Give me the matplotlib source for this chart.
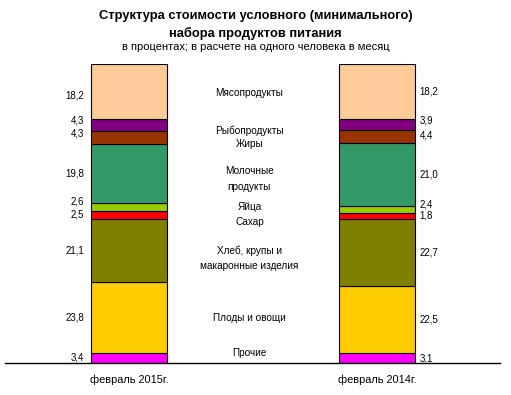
import matplotlib.pyplot as plt
import numpy as np

plt.rcParams['font.family'] = ['Liberation Sans', 'DejaVu Sans']

# categories from bottom to top
categories = ["Прочие", "Плоды и овощи", "Хлеб, крупы и\nмакаронные изделия", "Сахар",
              "Яйца", "Молочные\nпродукты", "Жиры", "Рыбопродукты", "Мясопродукты"]
periods = ["февраль 2015г.", "февраль 2014г."]
feb2015 = [3.4, 23.8, 21.1, 2.5, 2.6, 19.8, 4.3, 4.3, 18.2]
feb2014 = [3.1, 22.5, 22.7, 1.8, 2.4, 21.0, 4.4, 3.9, 18.2]
colors = ["#FF00FF", "#FFCC00", "#808000", "#FF0000", "#99CC00",
          "#339966", "#993300", "#800080", "#FFCC99"]
# vertical position (in %) of the category names between the bars
name_pos = [3.2, 14.9, 35.0, 47.1, 52.1, 61.5, 73.3, 77.6, 90.5]
# small nudges of the value labels (points), to keep them apart
nudge_l = [0, 0, 0, 0, 4, 0, 3, 3, -3]
nudge_r = [0, 0, 0, 0, 4, 0, 1, 3, 0]

fig = plt.figure(figsize=(5.11, 3.95), dpi=100)
ax = fig.add_axes([5 / 511, 1 - 362.7 / 395, 495 / 511, 298.4 / 395])

x = np.arange(len(periods))
w = 0.307
data = np.array([feb2015, feb2014])
bottom = np.zeros(2)
for i, c in enumerate(colors):
    ax.bar(x, data[:, i], w, bottom=bottom, color=c, edgecolor="black", linewidth=0.8)
    mid = bottom + data[:, i] / 2
    ax.annotate(f"{data[0, i]:.1f}".replace(".", ","), (x[0] - w / 2, mid[0]),
                xytext=(-5.5, nudge_l[i]), textcoords="offset points",
                ha="right", va="center", fontsize=7)
    ax.annotate(f"{data[1, i]:.1f}".replace(".", ","), (x[1] + w / 2, mid[1]),
                xytext=(3.5, nudge_r[i]), textcoords="offset points",
                ha="left", va="center", fontsize=7)
    ax.text(0.485, name_pos[i], categories[i], ha="center", va="center",
            fontsize=7.2, linespacing=1.7)
    bottom += data[:, i]

ax.set_xlim(-0.503, 1.498)
ax.set_ylim(0, 100)
for s in ["top", "left", "right"]:
    ax.spines[s].set_visible(False)
ax.spines["bottom"].set_linewidth(1)
ax.set_yticks([])
ax.set_xticks(x)
ax.set_xticklabels(periods, fontsize=7.9)
ax.tick_params(axis="x", length=0, pad=8.5)

fig.text(0.5, 1 - 16 / 395, "Структура стоимости условного (минимального)",
         ha="center", va="center", fontsize=9.3, fontweight="bold")
fig.text(0.5, 1 - 33 / 395, "набора продуктов питания",
         ha="center", va="center", fontsize=9.3, fontweight="bold")
fig.text(0.5, 1 - 47 / 395, "в процентах; в расчете на одного человека в месяц",
         ha="center", va="center", fontsize=8)

fig.savefig("out.png", dpi=100)
